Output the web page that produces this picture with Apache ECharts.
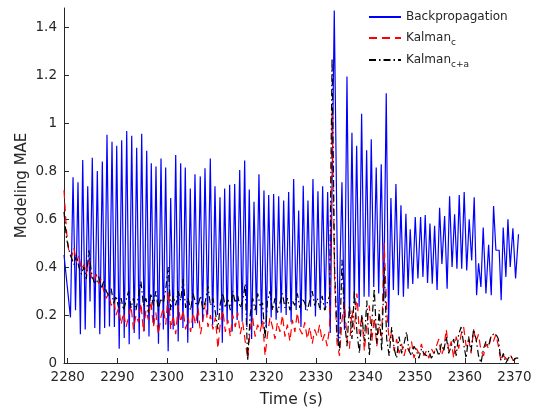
<!DOCTYPE html>
<html>
<head>
<meta charset="utf-8">
<script src="https://cdn.jsdelivr.net/npm/echarts@6/dist/echarts.min.js"></script>
<style>
  html, body { margin: 0; padding: 0; background: #fff; }
  #chart { width: 538px; height: 413px; }
</style>
</head>
<body>
<div id="chart"></div>
<script>
// Backpropagation error: alternating troughs and peaks (time in s, MAE)
const bpTime = [
  2279.25, 2280.55, 2281.07, 2281.57, 2282.07, 2282.55, 2283.02, 2283.52, 2284.03, 2284.49,
  2284.95, 2285.45, 2285.96, 2286.46, 2286.97, 2287.44, 2287.91, 2288.41, 2288.92, 2289.40,
  2289.87, 2290.37, 2290.87, 2291.38, 2291.88, 2292.38, 2292.89, 2293.39, 2293.89, 2294.40,
  2294.90, 2295.40, 2295.91, 2296.37, 2296.83, 2297.30, 2297.78, 2298.28, 2298.79, 2299.26,
  2299.73, 2300.23, 2300.74, 2301.24, 2301.75, 2302.25, 2302.75, 2303.21, 2303.68, 2304.18,
  2304.69, 2305.16, 2305.63, 2306.16, 2306.70, 2307.17, 2307.65, 2308.18, 2308.72, 2309.19,
  2309.66, 2310.16, 2310.67, 2311.14, 2311.61, 2312.11, 2312.62, 2313.12, 2313.63, 2314.13,
  2314.64, 2315.14, 2315.64, 2316.10, 2316.57, 2317.04, 2317.52, 2318.02, 2318.52, 2319.02,
  2319.53, 2320.00, 2320.48, 2320.98, 2321.48, 2321.98, 2322.49, 2322.99, 2323.50, 2324.00,
  2324.50, 2325.00, 2325.51, 2326.01, 2326.52, 2326.98, 2327.44, 2327.91, 2328.39, 2328.90,
  2329.40, 2329.90, 2330.40, 2330.87, 2331.35, 2331.85, 2332.36, 2332.88, 2333.69, 2334.50,
  2335.24, 2335.74, 2336.25, 2336.75, 2337.25, 2337.72, 2338.20, 2338.70, 2339.20, 2339.70,
  2340.21, 2340.67, 2341.14, 2341.64, 2342.14, 2342.64, 2343.15, 2343.65, 2344.16, 2344.63,
  2345.10, 2345.60, 2346.11, 2346.61, 2347.12, 2347.62, 2348.12, 2348.55, 2348.99, 2349.50,
  2350.00, 2350.54, 2351.08, 2351.55, 2352.01, 2352.48, 2352.96, 2353.43, 2353.90, 2354.40,
  2354.91, 2355.37, 2355.92, 2356.42, 2356.92, 2357.42, 2357.93, 2358.40, 2358.86, 2359.36,
  2359.86, 2360.37, 2360.87, 2361.37, 2361.88, 2362.36, 2362.76, 2363.23, 2363.69, 2364.24,
  2364.78, 2365.31, 2365.78, 2366.25, 2366.91, 2367.31, 2367.72, 2368.26, 2368.67, 2369.13,
  2369.67, 2370.21, 2370.80
];
const bpValue = [
  0.45, 0.19, 0.774, 0.22, 0.754, 0.12, 0.846, 0.14, 0.737, 0.256,
  0.856, 0.146, 0.80, 0.12, 0.84, 0.146, 0.952, 0.152, 0.922, 0.15,
  0.906, 0.059, 0.929, 0.104, 0.967, 0.078, 0.947, 0.125, 0.897, 0.099,
  0.956, 0.132, 0.885, 0.11, 0.833, 0.16, 0.819, 0.08, 0.853, 0.14,
  0.815, 0.049, 0.688, 0.14, 0.867, 0.09, 0.833, 0.146, 0.815, 0.084,
  0.727, 0.146, 0.787, 0.166, 0.778, 0.172, 0.812, 0.201, 0.853, 0.158,
  0.737, 0.20, 0.691, 0.084, 0.727, 0.172, 0.743, 0.131, 0.746, 0.179,
  0.805, 0.172, 0.844, 0.15, 0.723, 0.10, 0.672, 0.20, 0.787, 0.16,
  0.719, 0.145, 0.70, 0.19, 0.705, 0.18, 0.695, 0.21, 0.677, 0.20,
  0.713, 0.17, 0.767, 0.221, 0.636, 0.15, 0.739, 0.221, 0.677, 0.235,
  0.767, 0.194, 0.716, 0.221, 0.737, 0.221, 0.713, 0.125, 1.47, 0.09,
  0.754, 0.139, 1.194, 0.194, 0.96, 0.249, 0.906, 0.235, 1.039, 0.276,
  0.887, 0.276, 0.933, 0.317, 0.815, 0.29, 0.829, 0.256, 1.125, 0.15,
  0.688, 0.304, 0.746, 0.283, 0.658, 0.276, 0.622, 0.31, 0.558, 0.329,
  0.609, 0.352, 0.609, 0.359, 0.617, 0.334, 0.581, 0.331, 0.572, 0.304,
  0.647, 0.413, 0.613, 0.31, 0.695, 0.40, 0.62, 0.393, 0.70, 0.393,
  0.713, 0.386, 0.599, 0.427, 0.691, 0.283, 0.416, 0.317, 0.565, 0.29,
  0.493, 0.283, 0.654, 0.47, 0.47, 0.262, 0.565, 0.359, 0.599, 0.40,
  0.562, 0.352, 0.537
];

// Kalman filter errors, sampled every half second from kalmanStart
const kalmanStart = 2279.25;
const kalmanStep = 0.5;
const kalmanC = [
  0.72, 0.55, 0.46, 0.44, 0.48, 0.42, 0.45, 0.39, 0.41, 0.37,
  0.43, 0.36, 0.34, 0.37, 0.33, 0.35, 0.30, 0.27, 0.29, 0.24,
  0.26, 0.20, 0.23, 0.16, 0.21, 0.15, 0.19, 0.24, 0.14, 0.20,
  0.17, 0.25, 0.13, 0.22, 0.18, 0.26, 0.15, 0.21, 0.12, 0.19,
  0.23, 0.16, 0.30, 0.14, 0.20, 0.12, 0.24, 0.17, 0.22, 0.14,
  0.19, 0.13, 0.21, 0.16, 0.23, 0.12, 0.18, 0.25, 0.15, 0.20,
  0.14, 0.19, 0.06, 0.17, 0.22, 0.13, 0.18, 0.11, 0.20, 0.15,
  0.21, 0.12, 0.17, 0.09, 0.02, 0.14, 0.19, 0.11, 0.16, 0.13,
  0.18, 0.03, 0.12, 0.19, 0.15, 0.10, 0.17, 0.13, 0.20, 0.11,
  0.16, 0.09, 0.18, 0.13, 0.21, 0.14, 0.12, 0.17, 0.10, 0.15,
  0.08, 0.14, 0.11, 0.16, 0.09, 0.12, 0.07, 0.15, 1.05, 0.35,
  0.08, 0.03, 0.18, 0.25, 0.10, 0.06, 0.22, 0.14, 0.29, 0.12,
  0.20, 0.05, 0.16, 0.24, 0.09, 0.19, 0.07, 0.15, 0.11, 0.50,
  0.22, 0.09, 0.13, 0.05, 0.10, 0.04, 0.08, 0.03, 0.07, 0.05,
  0.09, 0.02, 0.06, 0.04, 0.08, 0.03, 0.05, 0.02, 0.06, 0.04,
  0.07, 0.10, 0.03, 0.06, 0.14, 0.05, 0.09, 0.02, 0.11, 0.06,
  0.12, 0.15, 0.07, 0.10, 0.04, 0.14, 0.09, 0.12, 0.05, 0.03,
  0.08, 0.06, 0.11, 0.09, 0.12, 0.07, 0.01, 0.03, 0.02, 0.01,
  0.03, 0.01, 0.02, 0.03
];
const kalmanCA = [
  0.63, 0.52, 0.47, 0.44, 0.41, 0.45, 0.40, 0.37, 0.40, 0.35,
  0.47, 0.38, 0.34, 0.33, 0.36, 0.31, 0.34, 0.30, 0.28, 0.31,
  0.25, 0.28, 0.23, 0.27, 0.22, 0.26, 0.30, 0.23, 0.27, 0.22,
  0.28, 0.34, 0.24, 0.27, 0.21, 0.29, 0.24, 0.30, 0.22, 0.27,
  0.25, 0.31, 0.40, 0.22, 0.28, 0.24, 0.30, 0.26, 0.35, 0.23,
  0.27, 0.22, 0.29, 0.25, 0.24, 0.28, 0.22, 0.26, 0.32, 0.24,
  0.27, 0.21, 0.14, 0.25, 0.29, 0.23, 0.27, 0.22, 0.30, 0.25,
  0.28, 0.23, 0.26, 0.33, 0.01, 0.20, 0.27, 0.22, 0.29, 0.24,
  0.25, 0.10, 0.26, 0.30, 0.22, 0.27, 0.21, 0.25, 0.29, 0.23,
  0.27, 0.22, 0.26, 0.24, 0.29, 0.23, 0.27, 0.25, 0.22, 0.26,
  0.30, 0.24, 0.27, 0.23, 0.28, 0.22, 0.25, 0.28, 1.27, 0.40,
  0.12, 0.05, 0.43, 0.18, 0.07, 0.24, 0.10, 0.30, 0.13, 0.04,
  0.20, 0.09, 0.26, 0.03, 0.17, 0.31, 0.08, 0.22, 0.05, 0.40,
  0.10, 0.03, 0.15, 0.06, 0.02, 0.11, 0.04, 0.08, 0.13, 0.05,
  0.03, 0.07, 0.05, 0.02, 0.06, 0.04, 0.03, 0.05, 0.02, 0.04,
  0.06, 0.03, 0.08, 0.05, 0.11, 0.04, 0.07, 0.10, 0.03, 0.12,
  0.15, 0.08, 0.02, 0.11, 0.05, 0.14, 0.10, 0.03, 0.00, 0.06,
  0.09, 0.07, 0.11, 0.12, 0.12, 0.10, 0.01, 0.04, 0.00, 0.02,
  0.03, 0.01, 0.02, 0.02
];

// Axis ticks
const xTicks = [2280, 2290, 2300, 2310, 2320, 2330, 2340, 2350, 2360, 2370];
const yTicks = [0, 0.2, 0.4, 0.6, 0.8, 1, 1.2, 1.4];
const xRange = [2279.25, 2370.8];
const yRange = [0, 1.48];

const seriesNames = ['Backpropagation', 'Kalman_c', 'Kalman_c+a'];

const bpData = bpTime.map((t, i) => [t, bpValue[i]]);
const toPairs = arr => arr.map((v, i) => [kalmanStart + i * kalmanStep, v]);

const axisColor = '#262626';
const font = 'DejaVu Sans';

const legendText = {
  fontFamily: font,
  fontSize: 12,
  color: '#262626',
  rich: {
    sub: { fontFamily: font, fontSize: 9, color: '#262626', verticalAlign: 'bottom', padding: [10, 0, 0, 0] }
  }
};
const legendFormatter = name => {
  if (name === 'Kalman_c') return 'Kalman{sub|c}';
  if (name === 'Kalman_c+a') return 'Kalman{sub|c+a}';
  return name;
};
function makeLegend(name, top) {
  return {
    data: [name],
    left: 368,
    top: top,
    itemWidth: 32,
    itemHeight: 10,
    itemGap: 0,
    padding: 0,
    itemStyle: { opacity: 0 },
    textStyle: legendText,
    formatter: legendFormatter,
    selectedMode: false
  };
}

const chart = echarts.init(document.getElementById('chart'), null, { renderer: 'canvas' });
chart.setOption({
  animation: false,
  backgroundColor: '#ffffff',
  textStyle: { fontFamily: font },
  grid: { left: 64, right: 19.5, top: 8, bottom: 46 },
  legend: [
    makeLegend('Backpropagation', 11),
    makeLegend('Kalman_c', 32),
    makeLegend('Kalman_c+a', 54)
  ],
  xAxis: {
    type: 'value',
    min: xRange[0],
    max: xRange[1],
    name: 'Time (s)',
    nameLocation: 'middle',
    nameGap: 29,
    nameMoveOverlap: false,
    nameTextStyle: { fontFamily: font, fontSize: 15.5, color: axisColor },
    axisLine: { show: true, onZero: false, lineStyle: { color: axisColor, width: 1 } },
    axisTick: { show: true, inside: true, length: 5, customValues: xTicks, lineStyle: { color: axisColor } },
    axisLabel: {
      customValues: xTicks,
      formatter: v => String(v),
      fontFamily: font, fontSize: 13.5, color: axisColor, margin: 7
    },
    splitLine: { show: false }
  },
  yAxis: {
    type: 'value',
    min: yRange[0],
    max: yRange[1],
    name: 'Modeling MAE',
    nameLocation: 'middle',
    nameGap: 34,
    nameMoveOverlap: false,
    nameTextStyle: { fontFamily: font, fontSize: 15, color: axisColor },
    axisLine: { show: true, onZero: false, lineStyle: { color: axisColor, width: 1 } },
    axisTick: { show: true, inside: true, length: 5, customValues: yTicks, lineStyle: { color: axisColor } },
    axisLabel: { customValues: yTicks, fontFamily: font, fontSize: 13.5, color: axisColor, margin: 7 },
    splitLine: { show: false }
  },
  series: [
    {
      name: seriesNames[0],
      type: 'line',
      data: bpData,
      symbol: 'none',
      color: '#0000ff',
      lineStyle: { color: '#0000ff', width: 1.2, type: 'solid' },
      z: 2
    },
    {
      name: seriesNames[1],
      type: 'line',
      data: toPairs(kalmanC),
      symbol: 'none',
      color: '#ff0000',
      lineStyle: { color: '#ff0000', width: 1.2, type: [8, 5] },
      z: 3
    },
    {
      name: seriesNames[2],
      type: 'line',
      data: toPairs(kalmanCA),
      symbol: 'none',
      color: '#000000',
      lineStyle: { color: '#000000', width: 1.2, type: [7, 3, 1.5, 3] },
      z: 4
    }
  ]
});
</script>
</body>
</html>
